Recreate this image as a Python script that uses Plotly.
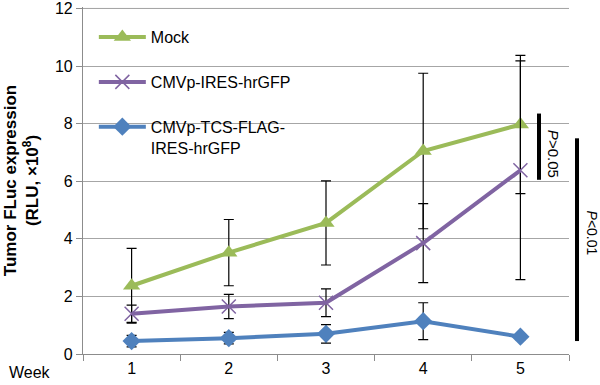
import plotly.graph_objects as go

weeks = [1, 2, 3, 4, 5]
week_labels = ["1", "2", "3", "4", "5"]

mock = [2.37, 3.52, 4.55, 7.05, 7.97]
mock_err = [1.3, 1.15, 1.46, 2.7, 2.4]

ires = [1.4, 1.65, 1.78, 3.85, 6.38]
ires_err = [0.3, 0.42, 0.48, 1.37, 3.8]

tcs = [0.45, 0.55, 0.7, 1.14, 0.6]
tcs_err = [0.2, 0.2, 0.32, 0.64, 0.1]

series_names = ["Mock", "CMVp-IRES-hrGFP", "CMVp-TCS-FLAG-<br>IRES-hrGFP"]
colors = ["#9BBB59", "#8064A2", "#4F81BD"]

y_ticks = [0, 2, 4, 6, 8, 10, 12]
y_max = 12

# significance bars: (y_low, y_high, label, label_y)
p_bars = [(6.05, 8.35, "<i>P</i>>0.05", 6.95), (0.45, 7.49, "<i>P</i><0.01", 4.2)]

FONT = "Liberation Sans, Arial, sans-serif"
PW = 486.0  # plot width in px

fig = go.Figure()

def add_series(y, err, name, color, symbol, msize, group):
    marker = dict(symbol=symbol, size=msize, color=color)
    if symbol == "x-thin-open":
        marker["line"] = dict(color=color, width=1.5)
    fig.add_trace(go.Scatter(
        x=weeks, y=y, name=name, mode="lines+markers",
        legendgroup=group,
        line=dict(color=color, width=4),
        marker=marker,
        error_y=dict(type="data", array=err, visible=True, color="black",
                     thickness=1.2, width=5),
    ))

add_series(mock, mock_err, series_names[0], colors[0], "triangle-up", 15, "a")
add_series(ires, ires_err, series_names[1], colors[1], "x-thin-open", 14, "b")
add_series(tcs, tcs_err, series_names[2], colors[2], "diamond", 14, "c")

# top gridline (plotly skips the one at the very edge)
fig.add_shape(type="line", xref="paper", yref="y", x0=0, x1=1, y0=y_max, y1=y_max,
              line=dict(color="#A6A6A6", width=1), layer="below")

# significance bars and labels
bar_x = [1.0 - 30 / PW, 1.0 + 8 / PW]
lab_x = [1.0 - 16 / PW, 1.0 + 22.5 / PW]
lab_size = [15, 14]
for (lo, hi, lab, ly), bx, lx, ls in zip(p_bars, bar_x, lab_x, lab_size):
    fig.add_shape(type="line", xref="paper", yref="y", x0=bx, x1=bx, y0=lo, y1=hi,
                  line=dict(color="black", width=4))
    fig.add_annotation(xref="paper", yref="y", x=lx, y=ly,
                       text=lab, showarrow=False, textangle=90,
                       xanchor="center", yanchor="middle",
                       font=dict(family=FONT, size=ls, color="black"))

fig.add_annotation(xref="paper", yref="paper", x=-53 / PW, y=-18 / 347, text="Week",
                   showarrow=False, xanchor="center", yanchor="middle",
                   font=dict(family=FONT, size=16, color="black"))

fig.update_layout(
    width=600, height=385,
    margin=dict(l=83, r=31, t=7, b=31),
    paper_bgcolor="white", plot_bgcolor="white",
    font=dict(family=FONT, size=16, color="black"),
    showlegend=True,
    legend=dict(x=0.0223, y=0.962, xanchor="left", yanchor="top",
                bgcolor="rgba(0,0,0,0)", traceorder="grouped",
                tracegroupgap=21, valign="top", itemwidth=47,
                font=dict(family=FONT, size=16, color="black")),
    xaxis=dict(range=[0.5, 5.5], tickvals=weeks, ticktext=week_labels,
               ticks="", showgrid=False, zeroline=False, automargin=False,
               showline=True, linecolor="#8C8C8C", linewidth=1.2,
               ticklabeloverflow="allow",
               minor=dict(tickvals=[0.5, 1.5, 2.5, 3.5, 4.5, 5.5], ticks="outside",
                          ticklen=6, tickcolor="#8C8C8C", showgrid=False),
               tickfont=dict(size=16)),
    yaxis=dict(range=[0, 12.05], tickvals=y_ticks, ticktext=[str(v) for v in y_ticks],
               showgrid=True, gridcolor="#A6A6A6", automargin=False,
               ticklabeloverflow="allow",
               gridwidth=1, zeroline=False, showline=True, linecolor="#8C8C8C",
               linewidth=1.2, ticks="outside", ticklen=6, tickcolor="#8C8C8C",
               tickfont=dict(size=16),
               title=dict(text="<b>Tumor FLuc expression<br>(RLU, ×10<sup>8</sup>)</b>",
                          font=dict(size=17), standoff=11)),
)

fig.write_html("out.html", config={"displayModeBar": False},
               post_script="document.body.style.margin='0';")
